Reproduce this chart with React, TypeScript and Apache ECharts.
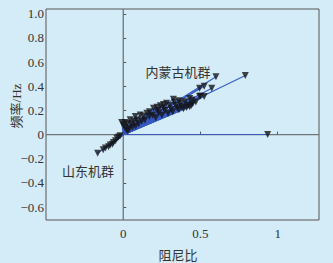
import React, { useEffect, useRef } from "react";
import * as echarts from "echarts";

// Arrow end points (damping ratio, frequency/Hz); every arrow starts at origin
const upperX = [0.79, 0.60, 0.524, 0.573, 0.494, 0.524, 0.494, 0.446, 0.43, 0.40, 0.37, 0.325, 0.28, 0.24, 0.218, 0.196, 0.153, 0.11, 0.078, 0.045, 0.013, -0.01,
  0.45, 0.44, 0.42, 0.38, 0.35, 0.34, 0.31, 0.30, 0.27, 0.26, 0.23, 0.22, 0.19, 0.17, 0.14, 0.12, 0.10, 0.08, 0.06, 0.04, 0.03, 0.02, 0.05, 0.07, 0.09, 0.13, 0.17, 0.26, 0.33, 0.36, 0.47, 0.50, 0.0, 0.01, 0.025,
  0.43, 0.41, 0.39, 0.36, 0.32, 0.29, 0.25, 0.21];
const upperY = [0.49, 0.48, 0.40, 0.384, 0.384, 0.315, 0.315, 0.287, 0.30, 0.273, 0.26, 0.293, 0.26, 0.238, 0.226, 0.218, 0.177, 0.163, 0.149, 0.122, 0.10, 0.10,
  0.255, 0.24, 0.245, 0.23, 0.22, 0.24, 0.21, 0.24, 0.20, 0.22, 0.18, 0.20, 0.16, 0.15, 0.12, 0.11, 0.09, 0.07, 0.06, 0.05, 0.03, 0.04, 0.09, 0.11, 0.12, 0.155, 0.19, 0.25, 0.27, 0.28, 0.27, 0.32, 0.08, 0.06, 0.09,
  0.23, 0.225, 0.215, 0.205, 0.19, 0.175, 0.16, 0.14];
const lowerX = [-0.166, -0.13, -0.115, -0.095, -0.084, -0.07, -0.063, -0.05, -0.041, -0.03, -0.02];
const lowerY = [-0.155, -0.125, -0.11, -0.10, -0.085, -0.08, -0.065, -0.05, -0.03, -0.02, -0.01];
const flatX = [0.935];
const flatY = [0.0];

const xTicks = [0, 0.5, 1];
const yTicks = [-0.6, -0.4, -0.2, 0, 0.2, 0.4, 0.6, 0.8, 1.0];
const xRange = [-0.5, 1.267];
const yRange = [-0.707, 1.04];

const groupLabels = ["内蒙古机群", "山东机群"];
const xName = "阻尼比";
const yName = "频率/Hz";

export default function App() {
  const ref = useRef<HTMLDivElement>(null);
  useEffect(() => {
    if (!ref.current) return;
    const chart = echarts.init(ref.current, null, { renderer: "svg" });
    const allX = [...upperX, ...lowerX, ...flatX];
    const allY = [...upperY, ...lowerY, ...flatY];
    const pts = allX.map((x, i) => [x, allY[i]]);
    const serif = "'Liberation Serif', 'Noto Sans CJK SC', serif";
    const textColor = "#333";
    chart.setOption({
      animation: false,
      backgroundColor: "#d4ecf8",
      grid: {
        left: 46, top: 9, right: 14, bottom: 43,
        show: true, borderColor: "#555", borderWidth: 1, backgroundColor: "transparent",
      },
      xAxis: {
        type: "value", min: xRange[0], max: xRange[1],
        axisLine: { show: false },
        splitLine: { show: false },
        axisTick: { show: true, inside: true, length: 3, customValues: xTicks, lineStyle: { color: "#555" } },
        axisLabel: {
          customValues: xTicks, margin: 7, color: textColor, fontFamily: serif, fontSize: 13,
          formatter: (v: number) => String(v),
        },
      },
      yAxis: {
        type: "value", min: yRange[0], max: yRange[1],
        axisLine: { show: false },
        splitLine: { show: false },
        axisTick: { show: true, inside: true, length: 3, customValues: yTicks, lineStyle: { color: "#555" } },
        axisLabel: {
          customValues: yTicks, margin: 2, color: textColor, fontFamily: serif, fontSize: 13,
          formatter: (v: number) => (Math.abs(v) < 1e-9 ? "0" : (v < 0 ? "−" : "") + Math.abs(v).toFixed(1)),
        },
      },
      series: [
        {
          type: "line", data: [[0, yRange[0]], [0, yRange[1]]], symbol: "none", silent: true, z: 1,
          lineStyle: { color: "#6e7478", width: 1.3 },
        },
        {
          type: "line", data: [[xRange[0], 0], [xRange[1], 0]], symbol: "none", silent: true, z: 1,
          lineStyle: { color: "#6e7478", width: 1.3 },
        },
        {
          type: "lines", coordinateSystem: "cartesian2d", z: 2, silent: true,
          lineStyle: { color: "#3558c2", width: 1.2, opacity: 0.95 },
          data: pts.map((p) => ({ coords: [[0, 0], p] })),
        },
        {
          type: "scatter", z: 3, symbol: "triangle", symbolRotate: 180, symbolSize: 7,
          itemStyle: { color: "#15161c" },
          data: pts,
        },
      ],
      graphic: [
        { type: "text", x: 178, y: 72, style: { text: groupLabels[0], font: "13px " + serif, fill: textColor, textAlign: "center", textVerticalAlign: "middle" } },
        { type: "text", x: 88, y: 171, style: { text: groupLabels[1], font: "13px " + serif, fill: textColor, textAlign: "center", textVerticalAlign: "middle" } },
        { type: "text", x: 178, y: 255, style: { text: xName, font: "13px " + serif, fill: textColor, textAlign: "center", textVerticalAlign: "middle" } },
        { type: "text", x: 16, y: 106, rotation: Math.PI / 2, style: { text: yName, font: "13px " + serif, fill: textColor, textAlign: "center", textVerticalAlign: "middle" } },
      ],
    });
    return () => chart.dispose();
  }, []);
  return <div ref={ref} style={{ position: "fixed", left: 0, top: 0, width: 333, height: 263 }} />;
}
